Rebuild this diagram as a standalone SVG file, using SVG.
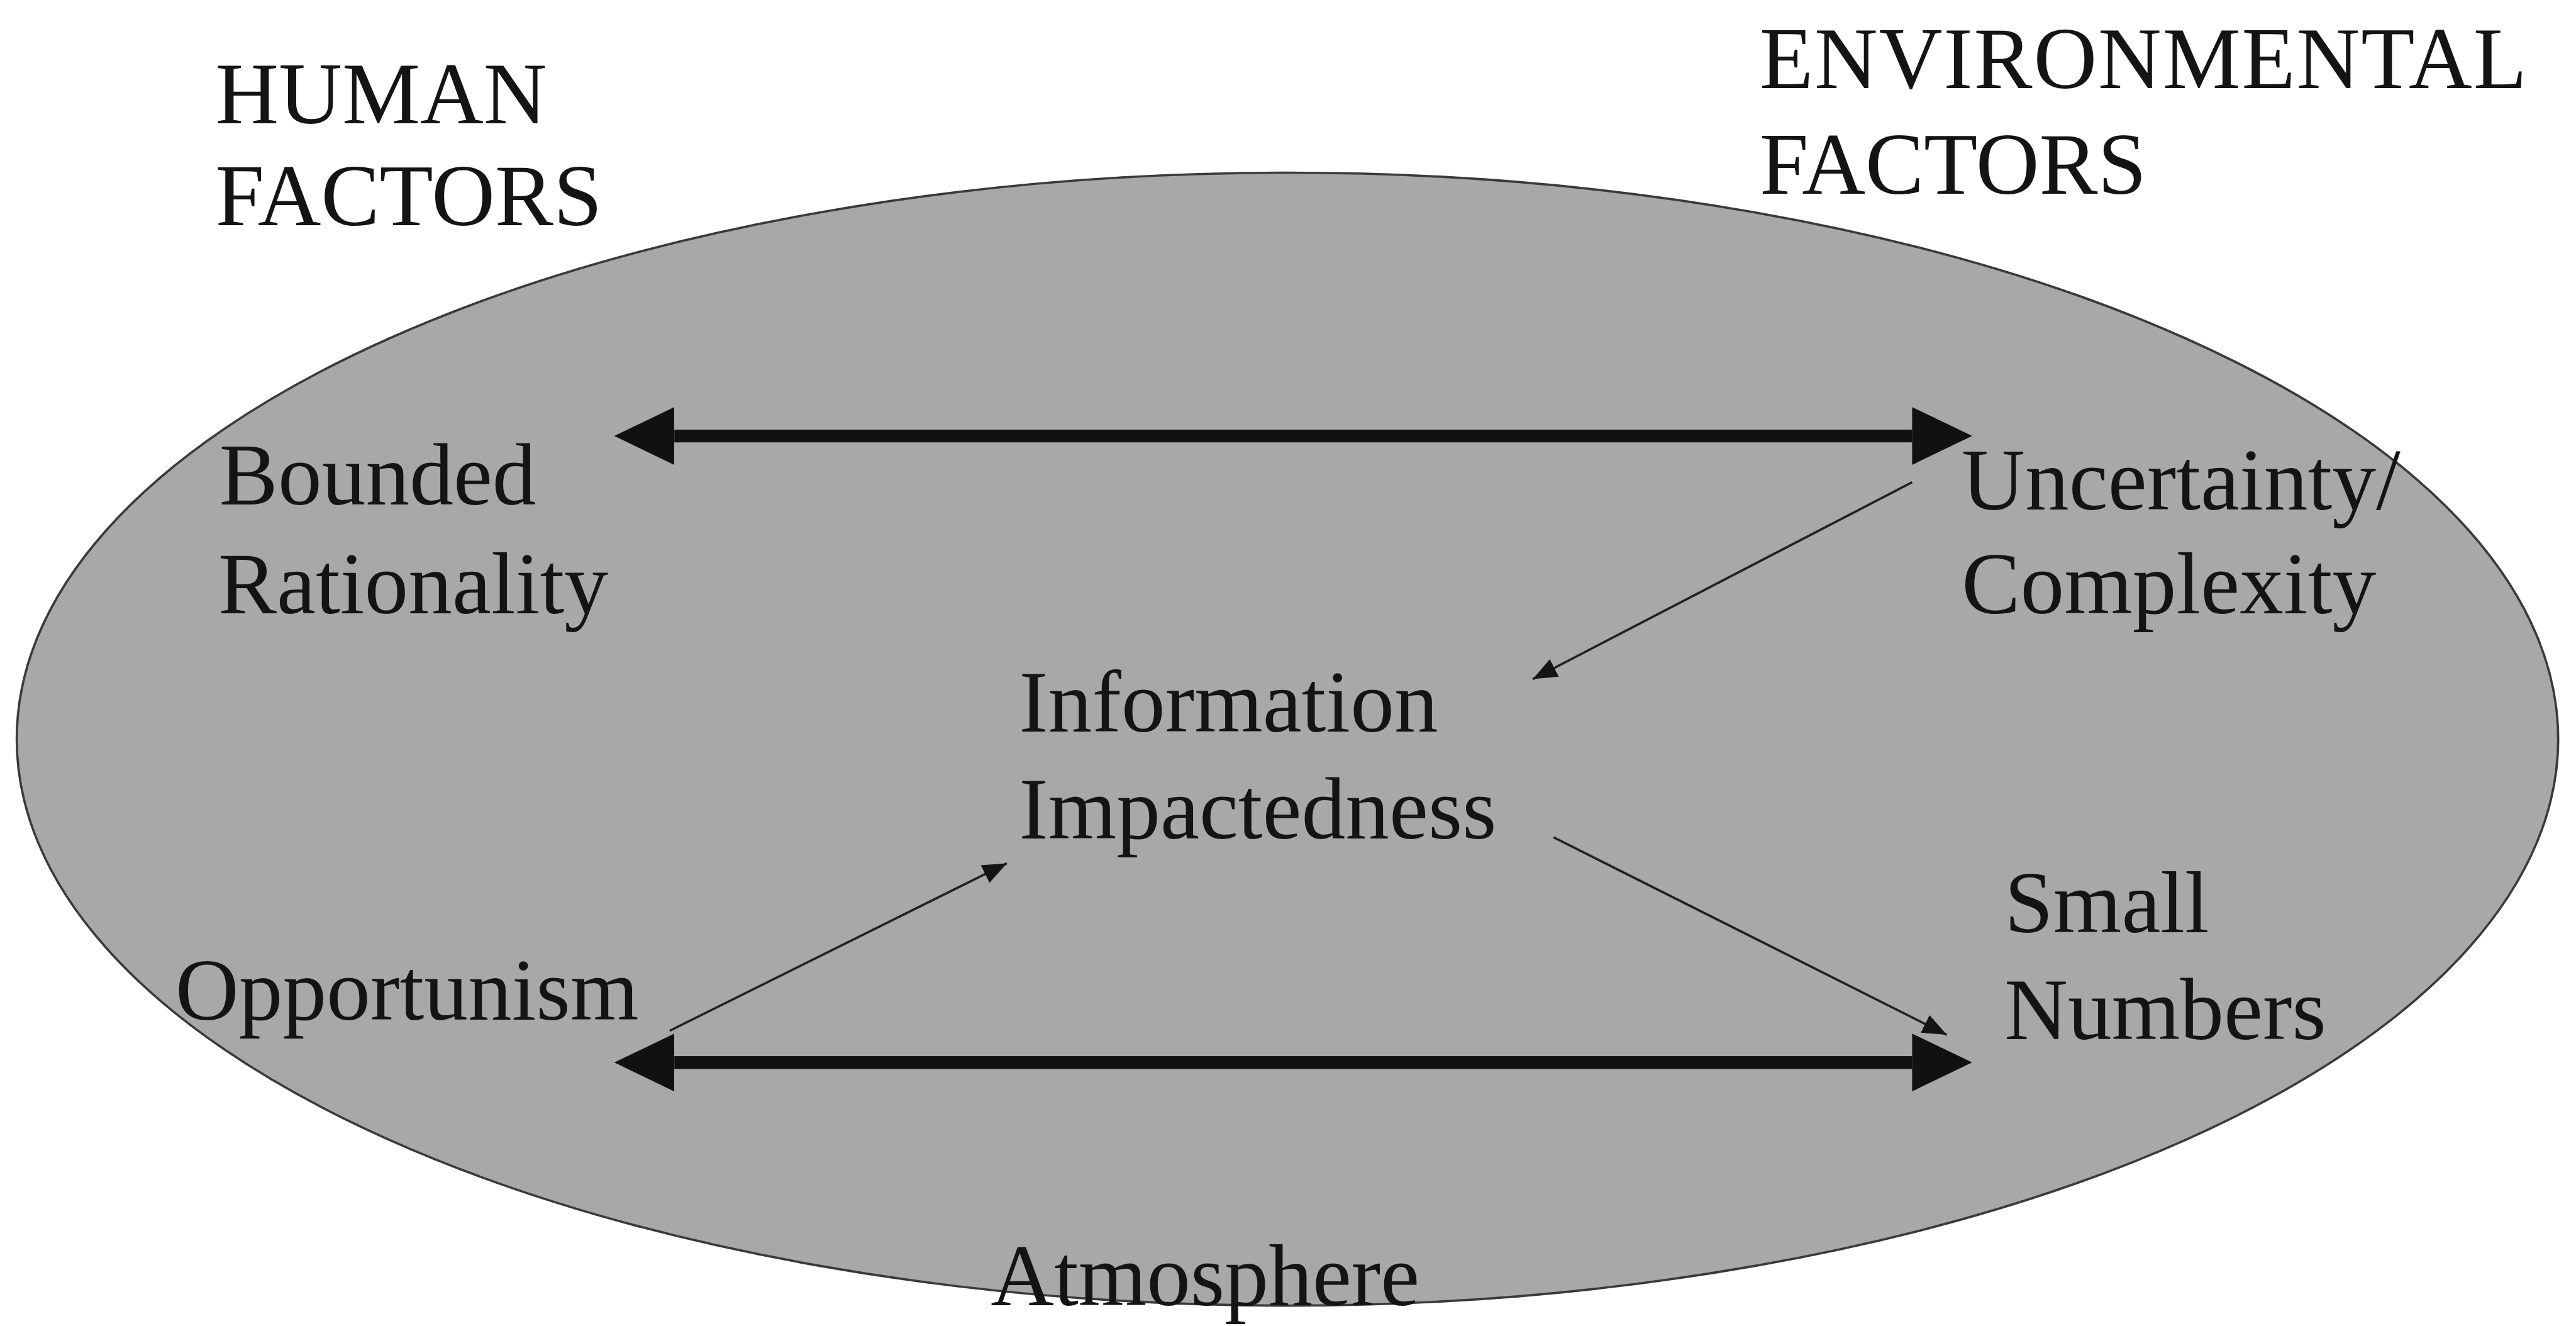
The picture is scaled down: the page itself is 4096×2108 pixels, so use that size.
<svg xmlns="http://www.w3.org/2000/svg" width="4096" height="2108" viewBox="0 0 4096 2108">
  <style>
    .label { font-family: "Liberation Serif", "Times New Roman", serif; font-size: 152px; fill: #141414; }
    .thick { stroke: #111; stroke-width: 22; fill: none; }
    .thin { stroke: #222; stroke-width: 4; fill: none; }
  </style>
  <defs>
    <!-- large filled head, base sits on the line end -->
    <marker id="bigHead" markerUnits="userSpaceOnUse" viewBox="0 -52 106 104" markerWidth="106" markerHeight="104" refX="0" refY="0" orient="auto-start-reverse">
      <path d="M0,-50 L104,0 L0,50 Z" fill="#111"/>
    </marker>
    <!-- small filled head, tip sits on the line end -->
    <marker id="smallHead" markerUnits="userSpaceOnUse" viewBox="0 -20 44 40" markerWidth="44" markerHeight="40" refX="42" refY="0" orient="auto">
      <path d="M0,-17 L42,0 L0,17 Z" fill="#151515"/>
    </marker>
  </defs>
  <rect width="4096" height="2108" fill="#ffffff"/>
  <g transform="scale(0.918)">
    <g id="atmosphere-field">
      <ellipse cx="2230" cy="1280" rx="2201" ry="981" fill="#a8a8a8" stroke="#3a3a3a" stroke-width="4"/>
    </g>

    <g id="connectors">
      <line class="thick" x1="1168" y1="755" x2="3312" y2="755" marker-start="url(#bigHead)" marker-end="url(#bigHead)"/>
      <line class="thick" x1="1168" y1="1840" x2="3312" y2="1840" marker-start="url(#bigHead)" marker-end="url(#bigHead)"/>
      <line class="thin" x1="3312" y1="835" x2="2655" y2="1176" marker-end="url(#smallHead)"/>
      <line class="thin" x1="1160" y1="1785" x2="1744" y2="1495" marker-end="url(#smallHead)"/>
      <line class="thin" x1="2691" y1="1450" x2="3372" y2="1792" marker-end="url(#smallHead)"/>
    </g>

    <g id="human-factors">
      <text class="label" x="373" y="214">HUMAN</text>
      <text class="label" x="373" y="390">FACTORS</text>
    </g>
    <g id="environmental-factors">
      <text class="label" x="3048" y="152" letter-spacing="2">ENVIRONMENTAL</text>
      <text class="label" x="3048" y="336">FACTORS</text>
    </g>
    <g id="bounded-rationality">
      <text class="label" x="380" y="874">Bounded</text>
      <text class="label" x="378" y="1062">Rationality</text>
    </g>
    <g id="uncertainty-complexity">
      <text class="label" x="3398" y="882">Uncertainty/</text>
      <text class="label" x="3398" y="1062">Complexity</text>
    </g>
    <g id="information-impactedness">
      <text class="label" x="1765" y="1267">Information</text>
      <text class="label" x="1765" y="1452">Impactedness</text>
    </g>
    <g id="opportunism">
      <text class="label" x="304" y="1766">Opportunism</text>
    </g>
    <g id="small-numbers">
      <text class="label" x="3472" y="1614">Small</text>
      <text class="label" x="3472" y="1800">Numbers</text>
    </g>
    <g id="atmosphere">
      <text class="label" x="1716" y="2260">Atmosphere</text>
    </g>
  </g>
</svg>
